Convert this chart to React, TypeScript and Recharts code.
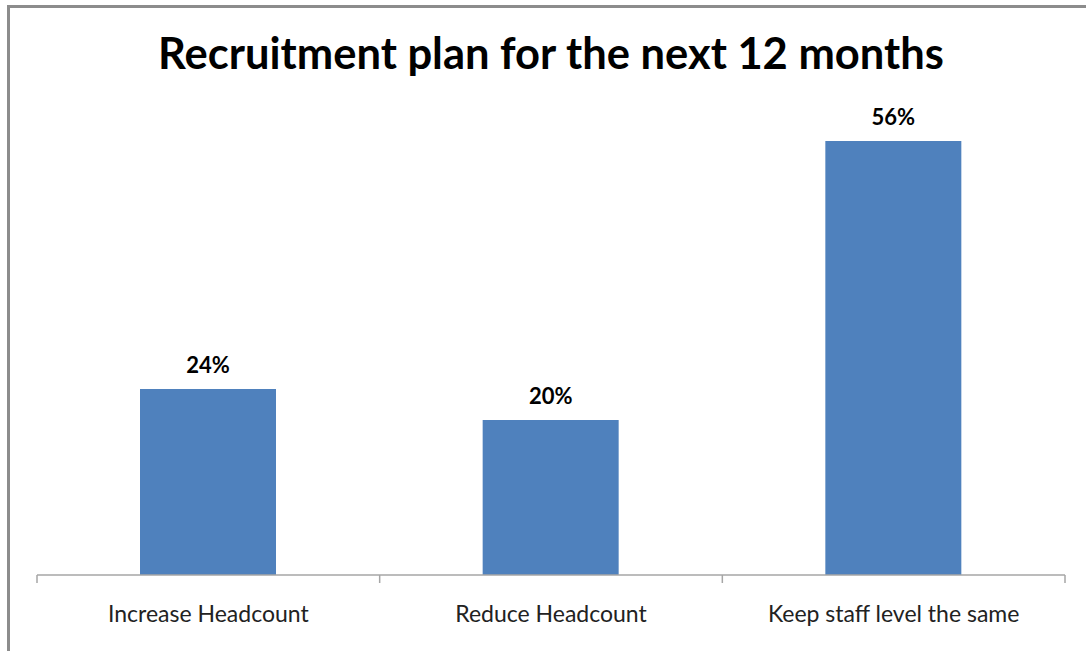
import React from 'react';
import { BarChart, Bar, XAxis, YAxis, LabelList } from 'recharts';

const categories = ['Increase Headcount', 'Reduce Headcount', 'Keep staff level the same'];
const values = [24, 20, 56];
const data = categories.map((name, i) => ({ name, value: values[i] }));

const FONT = 'Lato, "Open Sans", sans-serif';
const LEFT = 37;
const RIGHT = 1065;
const BAND = (RIGHT - LEFT) / categories.length;

const Tick = (props: any) => {
  const { x, y, payload, index } = props;
  const half = payload && payload.offset ? payload.offset : BAND / 2;
  return (
    <g>
      <line x1={x - half} x2={x - half} y1={y} y2={y + 8} stroke="#a6a6a6" strokeWidth={1.5} />
      {index === categories.length - 1 && (
        <line x1={x + half} x2={x + half} y1={y} y2={y + 8} stroke="#a6a6a6" strokeWidth={1.5} />
      )}
      <text x={x} y={y + 47} textAnchor="middle" fontFamily={FONT} fontSize={23} fill="#222">
        {payload.value}
      </text>
    </g>
  );
};

export default function App() {
  return (
    <div style={{ position: 'absolute', left: 0, top: 0, width: 1086, height: 651, overflow: 'hidden', background: '#fff' }}>
      <div style={{ position: 'absolute', left: 7, top: 5, width: 1200, height: 800, borderLeft: '3px solid #8c8c8c', borderTop: '3px solid #8c8c8c' }} />
      <div style={{ position: 'absolute', left: 0, top: 26, width: 1102, textAlign: 'center', fontFamily: FONT, fontWeight: 700, fontSize: 43.5, color: '#000', lineHeight: 1.2 }}>
        Recruitment plan for the next 12 months
      </div>
      <div style={{ position: 'absolute', left: 0, top: 0 }}>
        <BarChart width={1086} height={651} data={data} margin={{ top: 110, right: 1086 - RIGHT, bottom: 0, left: LEFT }}>
          <YAxis hide domain={[0, 60]} />
          <XAxis dataKey="name" height={76} axisLine={{ stroke: '#a6a6a6', strokeWidth: 1.5 }} tickLine={false} tickSize={0} tickMargin={0} tick={<Tick />} interval={0} />
          <Bar dataKey="value" fill="#4f81bd" barSize={136} isAnimationActive={false}>
            <LabelList dataKey="value" position="top" offset={16} formatter={(v: any) => `${v}%`} style={{ fontFamily: FONT, fontWeight: 700, fontSize: 22, fill: '#000' }} />
          </Bar>
        </BarChart>
      </div>
    </div>
  );
}
